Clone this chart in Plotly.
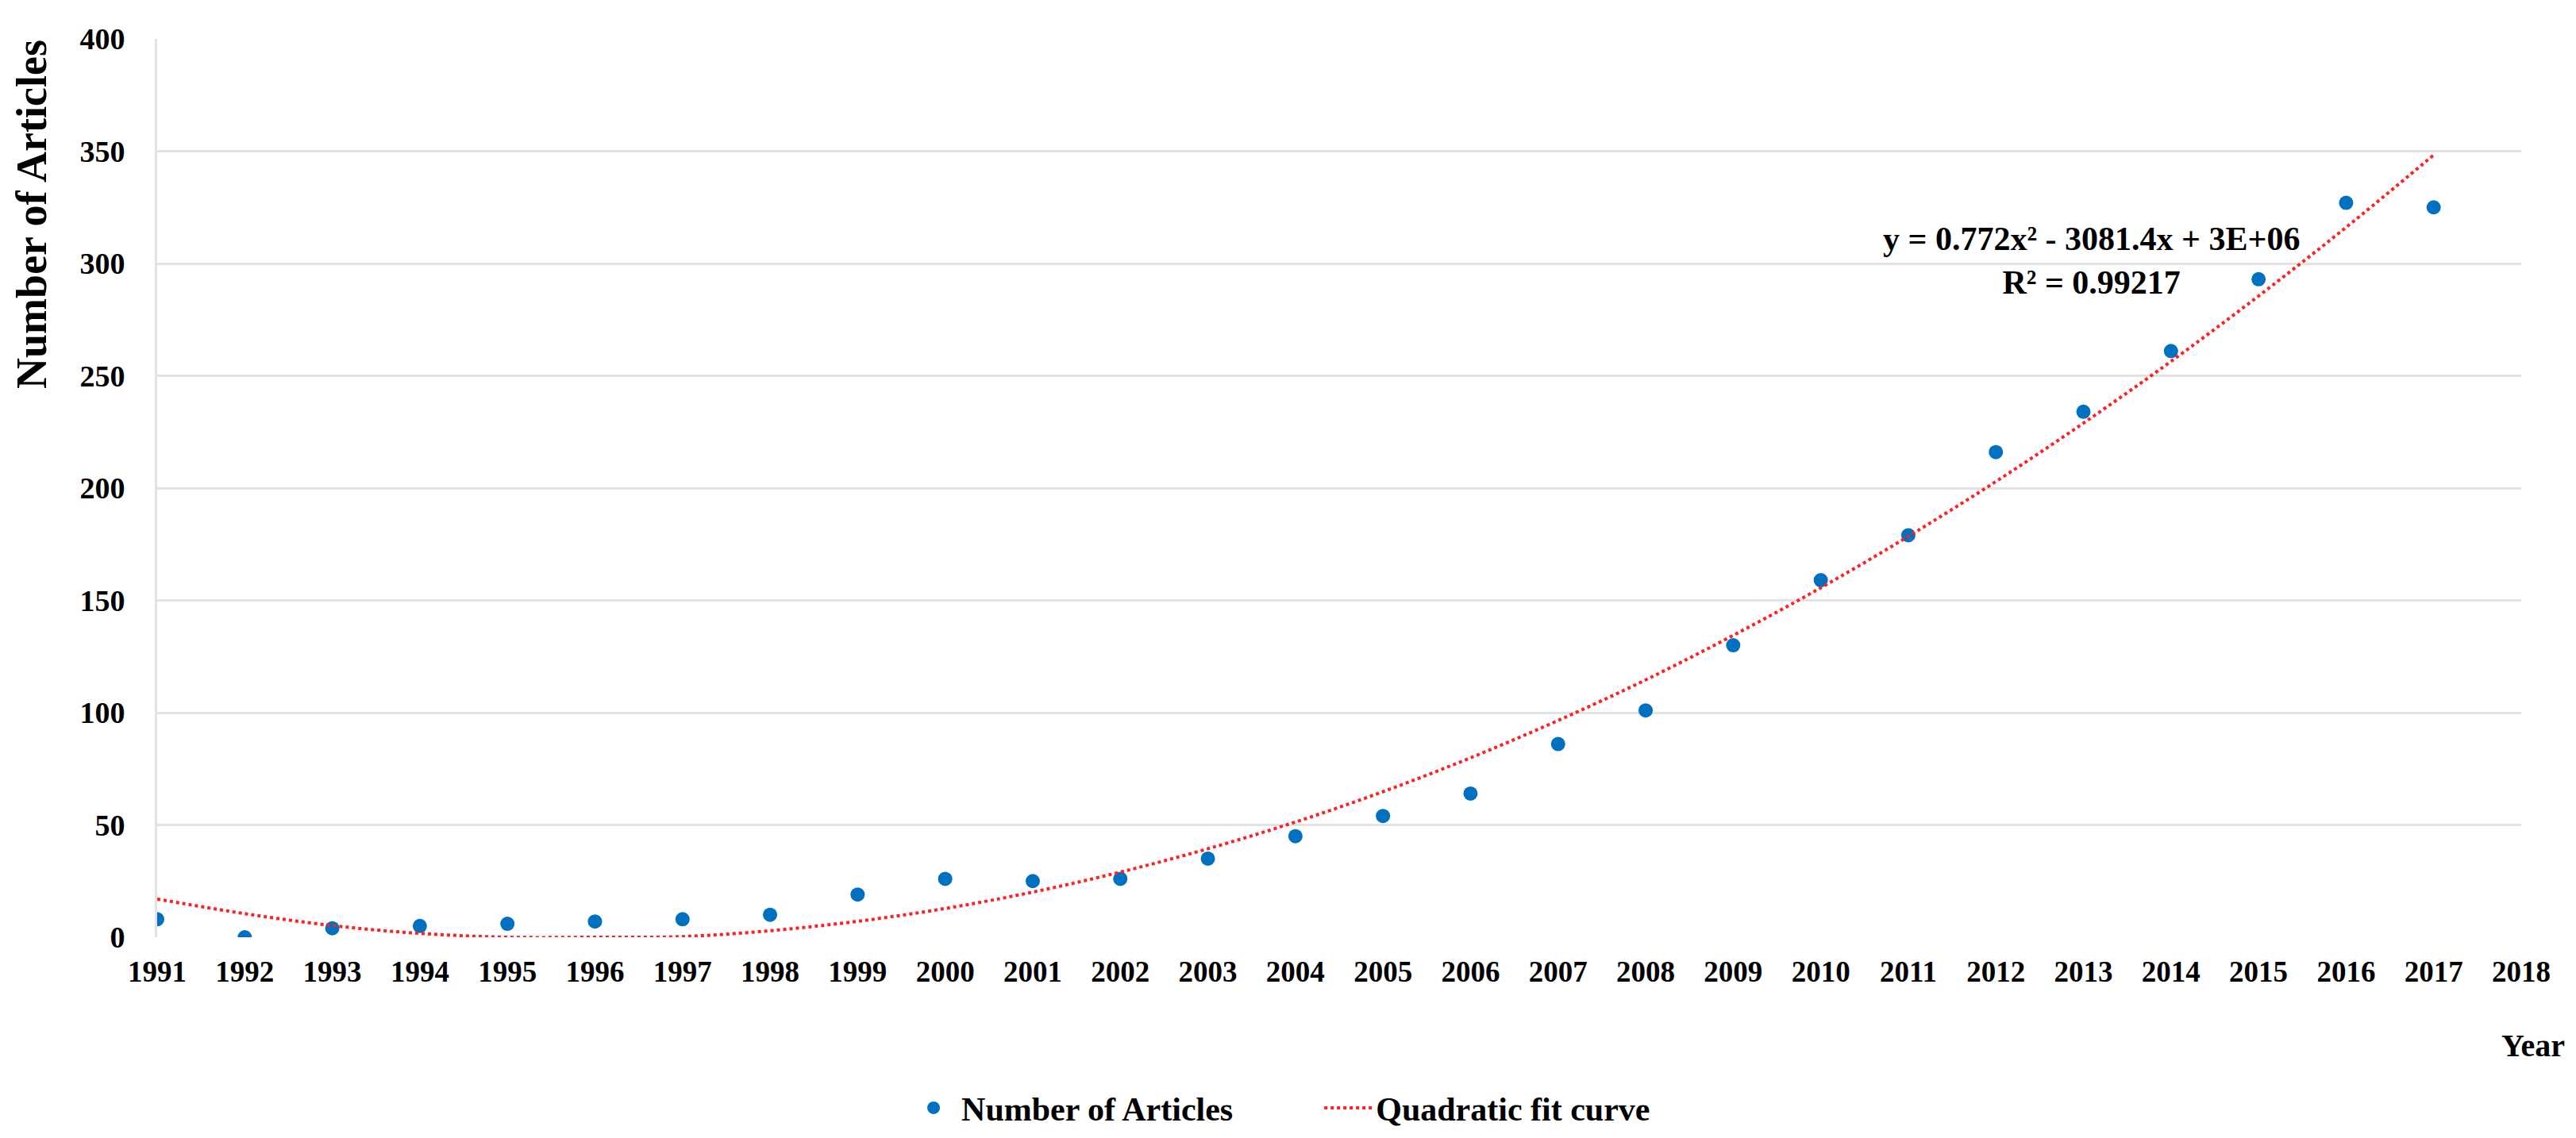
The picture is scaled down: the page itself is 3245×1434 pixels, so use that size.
import plotly.graph_objects as go

years = list(range(1991, 2018))
articles = [8, 0, 4, 5, 6, 7, 8, 10, 19, 26, 25, 26, 35, 45, 54, 64, 86, 101,
            130, 159, 179, 216, 234, 261, 293, 327, 325]
# quadratic trend curve
fit_curve = [17, 10.5, 5.2, 1.7, 0, 0, 0.3, 2.9, 7.1, 12.8, 20.1, 29, 39.4, 51.3,
             64.8, 79.9, 96.5, 114.6, 134.4, 155.6, 178.5, 202.9, 228.9, 256.4,
             285.5, 316.1, 348.3]
x_ticks = list(range(1991, 2019))
y_ticks = [0, 50, 100, 150, 200, 250, 300, 350, 400]

FONT = "Liberation Serif"
W, H = 3245, 1434
L, R, T, B = 190, 77, 41, 254

fig = go.Figure()
fig.add_trace(go.Scatter(
    x=years, y=articles, mode="markers",
    name="<b>Number of Articles</b>" + "&nbsp;" * 10,
    marker=dict(color="#0070C0", size=18),
))
fig.add_trace(go.Scatter(
    x=years, y=fit_curve, mode="lines", name="<b>Quadratic fit curve</b>",
    line=dict(color="#FF2020", width=4, dash="dot", shape="spline"),
))

fig.update_layout(
    width=W, height=H,
    margin=dict(l=L, r=R, t=T, b=B),
    paper_bgcolor="white", plot_bgcolor="white",
    font=dict(family=FONT, size=36, color="black"),
    legend=dict(orientation="h", x=0.475, xanchor="center", y=-0.19, yanchor="middle",
                font=dict(family=FONT, size=42, color="black"),
                itemwidth=60, tracegroupgap=0),
    showlegend=True,
)
fig.update_xaxes(
    range=[1991, 2018], tickmode="array", tickvals=x_ticks,
    ticktext=[f"<b>{v}</b>" for v in x_ticks],
    showgrid=False, zeroline=False, showline=False,
    ticks="", ticklabelstandoff=18,
    tickfont=dict(family=FONT, size=37, color="black"),
)
fig.update_yaxes(
    range=[0, 400], tickmode="array", tickvals=y_ticks,
    ticktext=[f"<b>{v}</b>" for v in y_ticks],
    showgrid=True, gridcolor="#E3E3E3", gridwidth=3,
    zeroline=False, showline=True, linecolor="#E3E3E3", linewidth=3,
    ticks="", ticklabelstandoff=30,
    tickfont=dict(family=FONT, size=38, color="black"),
)

fig.add_annotation(
    xref="paper", yref="paper", x=-0.053, y=0.805,
    text="<b>Number of Articles</b>", textangle=-90, showarrow=False,
    font=dict(family=FONT, size=54, color="black"),
    xanchor="center", yanchor="middle",
)
fig.add_annotation(
    xref="paper", yref="paper", x=1.005, y=-0.121,
    text="<b>Year</b>", showarrow=False,
    font=dict(family=FONT, size=40, color="black"),
    xanchor="center", yanchor="middle",
)
fig.add_annotation(
    xref="paper", yref="paper", x=0.818, y=0.753,
    text="<b>y = 0.772x² - 3081.4x + 3E+06</b><br><b>R² = 0.99217</b>",
    showarrow=False, align="center",
    font=dict(family=FONT, size=42, color="black"),
    xanchor="center", yanchor="middle",
)

fig.write_html("out.html")
